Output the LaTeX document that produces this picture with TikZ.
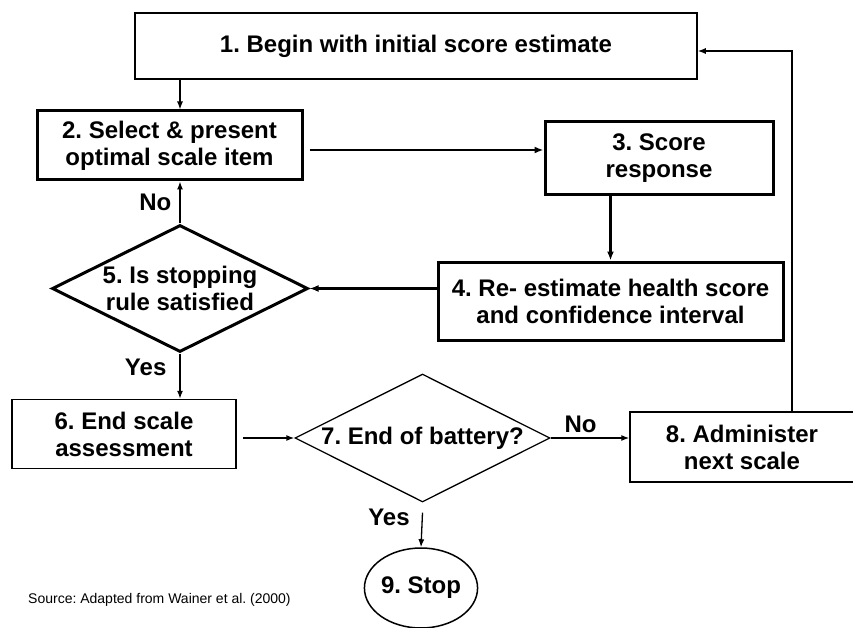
\documentclass[tikz,border=0pt]{standalone}
\usepackage{fontspec}
\setmainfont{Liberation Sans}
\usetikzlibrary{shapes.geometric, arrows.meta, positioning}
\frenchspacing

\begin{document}
\begin{tikzpicture}[x=1pt, y=-1pt,
  txt/.style={font=\fontsize{24}{27}\selectfont\bfseries, align=center},
  stepthin/.style={draw, line width=1.5pt, txt, inner sep=0pt},
  stepthick/.style={draw, line width=3pt, txt, inner sep=0pt},
  decision/.style={draw, diamond, inner sep=0pt},
  answer/.style={txt, inner sep=0pt},
  arr/.style={-{Latex[length=8pt,width=6pt]}, line width=1.3pt},
  arrthick/.style={-{Latex[length=9pt,width=7pt]}, line width=2.5pt}]
  \useasboundingbox (0,0) rectangle (853,628);

  % Upper loop: items of one scale
  \node[stepthin, minimum width=562, minimum height=66] (begin) at (416,46) {1. Begin with initial score estimate};
  \node[stepthick, minimum width=265, minimum height=69] (select) at (169.5,145.5) {2. Select \& present\\optimal scale item};
  \node[stepthick, minimum width=228, minimum height=73] (score) at (659,158.5) {3. Score\\response};
  \node[stepthick, minimum width=345, minimum height=78] (reest) at (610.5,301) {4. Re- estimate health score\\and confidence interval};
  \node[decision, line width=3pt, minimum width=256, minimum height=127,
        label={[txt]center:5. Is stopping\\rule satisfied}] (stoprule) at (180,288.5) {};

  % Lower row: next scale or stop
  \node[stepthin, minimum width=224, minimum height=69] (endscale) at (124,434) {6. End scale\\assessment};
  \node[decision, line width=1.3pt, minimum width=255, minimum height=128,
        label={[txt]center:7. End of battery?}] (battery) at (422.5,438) {};
  \node[stepthin, minimum width=224, minimum height=70] (nextscale) at (742,447) {8. Administer\\next scale};
  \node[stepthin, ellipse, minimum width=74, minimum height=80] (stop) at (421,588) {9. Stop};

  \node[font=\fontsize{14}{16}\selectfont, anchor=west, inner sep=0pt] (source) at (28,600) {Source: Adapted from Wainer et al. (2000)};

  % Connectors
  \draw[arr] (begin.south -| stoprule) -- (select.north -| stoprule);
  \draw[arrthick] ([xshift=6pt,yshift=-4.5pt]select.east) -- ([yshift=-4.5pt]score.west |- select.east);
  \draw[arrthick] (reest.north |- score.south) -- (reest.north);
  \draw[arrthick] (reest.west |- stoprule.east) -- (stoprule.east);
  \draw[arr] (stoprule.north) -- node[answer, left=8pt] {No} (select.south -| stoprule);
  \draw[arr] (stoprule.south) -- node[answer, left=13pt, pos=0.3] {Yes} (endscale.north -| stoprule);
  \draw[arr] ([xshift=6pt]endscale.east |- battery.west) -- (battery.west);
  \draw[arr] (battery.east) -- node[answer, above=5pt, pos=0.38] {No} (nextscale.west |- battery.east);
  \draw[arr] ([yshift=-10pt]battery.south) -- node[answer, left=12pt, pos=0.15] {Yes} (stop.north);
  \draw[arr] ([xshift=50pt]nextscale.north) |- ([yshift=-5pt]begin.east);
\end{tikzpicture}
\end{document}
